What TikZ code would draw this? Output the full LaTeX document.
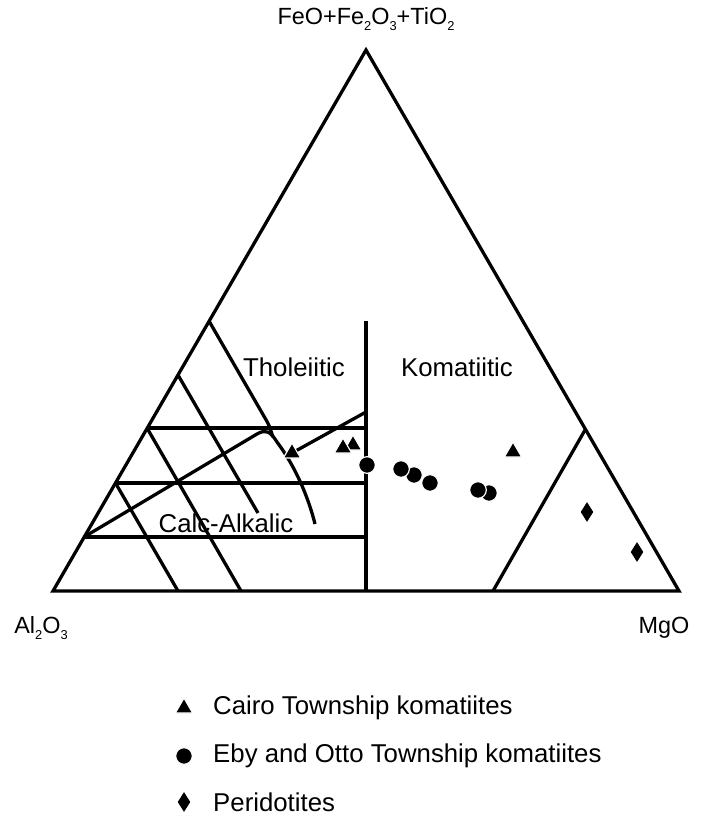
\documentclass[tikz,border=0pt]{standalone}
\usepackage{fontspec}
\setmainfont{Liberation Sans}
\usetikzlibrary{shapes.geometric}

\newcommand{\chemsub}[1]{\raisebox{-0.45ex}{\fontsize{11}{11}\selectfont #1}}

\begin{document}
\begin{tikzpicture}[
    x=0.03cm,y=-0.03cm,
    ln/.style={line width=2.8pt,line join=miter},
    axlbl/.style={font=\fontsize{20}{24}\selectfont,inner sep=0pt},
    lbl/.style={font=\fontsize{22}{26}\selectfont,inner sep=0pt},
    tri/.style={regular polygon,regular polygon sides=3,fill=black,draw=white,line width=1pt,minimum size=0.6cm,inner sep=0pt},
    dot/.style={circle,fill=black,draw=white,line width=1pt,minimum size=0.5cm,inner sep=0pt},
    dia/.style={diamond,fill=black,minimum width=0.38cm,minimum height=0.6cm,inner sep=0pt}
  ]
  \useasboundingbox (0,0) rectangle (722,822);

  % corners of the ternary plot
  \coordinate (Al) at (53,591);
  \coordinate (Mg) at (679,591);
  \coordinate (Fe) at (366,50);
  \coordinate (vtop) at (366,321);
  \coordinate (vbot) at (366,591);

  \draw[ln] (Al) -- (Mg) -- (Fe) -- cycle;
  \draw[ln] (vtop) -- (vbot);

  % grid of the calc-alkalic / tholeiitic field
  \draw[ln] (147,428) -- (vtop |- 0,428);
  \draw[ln] (115.5,483) -- (vtop |- 0,483);
  \draw[ln] (84,537) -- (vtop |- 0,537);
  \draw[ln] (147,428) -- (241,591);
  \draw[ln] (115.5,483) -- (178,591);
  \draw[ln] (178,375) -- (258,513);

  % field boundaries
  \draw[ln] (209,321) -- (265,418) .. controls (269,425) .. (273,437);
  \draw[ln] (84,537) -- (257,434) .. controls (266,429) and (270,431) .. (277,442)
    .. controls (295,466) and (308,496) .. (315,524);
  \draw[ln] (585,430) -- (493,591);

  % samples
  \node[tri] (t2) at (353,445) {};
  \node[tri] (t1) at (343,448) {};
  \node[tri] (t0) at (292,453) {};
  \node[tri] (t3) at (513,452) {};
  \coordinate (dtop) at (366,412);
  \draw[ln] (dtop) -- (t0);

  \node[dot] (c1) at (367,465) {};
  \node[dot] (c3) at (414,475) {};
  \node[dot] (c2) at (401,469) {};
  \node[dot] (c4) at (430,483) {};
  \node[dot] (c6) at (489,493) {};
  \node[dot] (c5) at (478,490) {};

  \node[dia] (p1) at (587,512) {};
  \node[dia] (p2) at (637,552) {};

  % labels
  \node[axlbl] (fe) at (366,19) {FeO+Fe\chemsub{2}O\chemsub{3}+TiO\chemsub{2}};
  \node[axlbl] (al) at (41,628) {Al\chemsub{2}O\chemsub{3}};
  \node[axlbl] (mg) at (664,628) {MgO};
  \node[lbl] (thol) at (294,367) {Tholeiitic};
  \node[lbl] (koma) at (457,367) {Komatiitic};
  \node[lbl] (calc) at (226,523) {Calc-Alkalic};

  % legend
  \node[tri] (lt) at (184,708) {};
  \node[dot] (lc) at (184,756) {};
  \node[dia] (ld) at (184,802) {};
  \node[lbl,anchor=west] (ltx) at (213,708) {Cairo Township komatiites};
  \node[lbl,anchor=west] (lcx) at (213,756) {Eby and Otto Township komatiites};
  \node[lbl,anchor=west] (ldx) at (213,802) {Peridotites};
\end{tikzpicture}
\end{document}
